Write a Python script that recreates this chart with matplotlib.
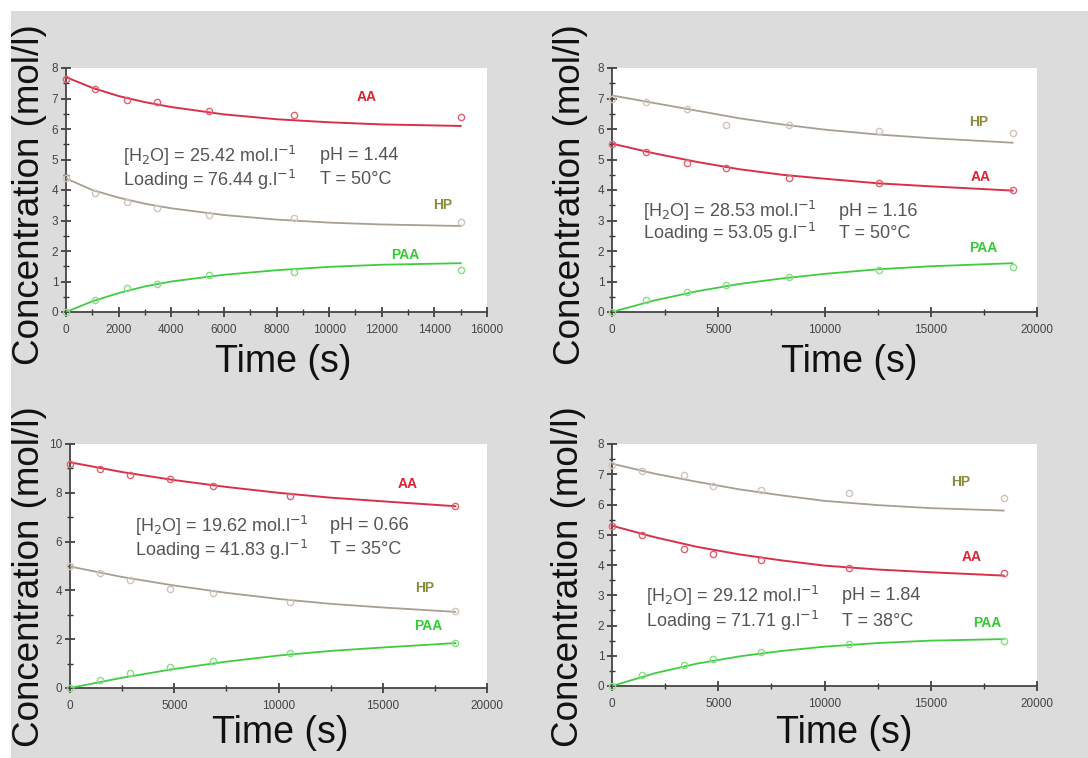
import numpy as np
import matplotlib
matplotlib.use("Agg")
import matplotlib.pyplot as plt
from matplotlib.patches import Rectangle
from matplotlib.ticker import MultipleLocator

plt.rcParams['font.family'] = ['Liberation Sans', 'DejaVu Sans']

W, H = 1088, 758

# ---- data ----
# panel 1
t1 = [0, 1100, 2300, 3450, 5450, 8650, 15000]
aa1 = [7.65, 7.31, 6.96, 6.88, 6.58, 6.47, 6.39]
hp1 = [4.40, 3.89, 3.62, 3.40, 3.18, 3.07, 2.96]
paa1 = [0, 0.38, 0.80, 0.93, 1.20, 1.32, 1.39]
ft1 = [0, 1000, 2000, 3000, 4000, 6000, 8000, 10000, 12000, 15000]
aa1_fit = [7.70, 7.35, 7.08, 6.88, 6.72, 6.48, 6.32, 6.22, 6.15, 6.10]
hp1_fit = [4.38, 4.00, 3.75, 3.55, 3.40, 3.18, 3.03, 2.93, 2.87, 2.82]
paa1_fit = [0, 0.35, 0.62, 0.84, 1.00, 1.22, 1.37, 1.48, 1.55, 1.60]

# panel 2
t2 = [0, 1600, 3550, 5350, 8350, 12550, 18850]
aa2 = [5.51, 5.26, 4.90, 4.71, 4.38, 4.22, 4.00]
hp2 = [7.00, 6.90, 6.65, 6.14, 6.14, 5.94, 5.86]
paa2 = [0, 0.38, 0.66, 0.88, 1.15, 1.39, 1.48]
ft2 = [0, 2000, 4000, 6000, 8000, 10000, 12500, 15000, 18850]
aa2_fit = [5.52, 5.20, 4.92, 4.68, 4.50, 4.37, 4.22, 4.12, 3.98]
hp2_fit = [7.10, 6.85, 6.60, 6.35, 6.15, 5.98, 5.82, 5.70, 5.55]
paa2_fit = [0, 0.38, 0.68, 0.92, 1.10, 1.25, 1.40, 1.50, 1.60]

# panel 3
t3 = [0, 1440, 2900, 4800, 6880, 10560, 18480]
aa3 = [9.18, 8.99, 8.74, 8.57, 8.29, 7.86, 7.45]
hp3 = [5.00, 4.71, 4.44, 4.07, 3.89, 3.52, 3.14]
paa3 = [0, 0.34, 0.61, 0.85, 1.09, 1.43, 1.84]
ft3 = [0, 2500, 5000, 7500, 10000, 12500, 15000, 18480]
aa3_fit = [9.25, 8.85, 8.52, 8.24, 8.00, 7.80, 7.65, 7.45]
hp3_fit = [4.98, 4.55, 4.20, 3.90, 3.65, 3.45, 3.30, 3.12]
paa3_fit = [0, 0.42, 0.78, 1.08, 1.33, 1.52, 1.66, 1.84]

# panel 4
t4 = [0, 1400, 3400, 4750, 7000, 11150, 18430]
aa4 = [5.30, 4.98, 4.54, 4.38, 4.18, 3.90, 3.72]
hp4 = [7.30, 7.12, 6.96, 6.60, 6.49, 6.38, 6.21]
paa4 = [0, 0.38, 0.69, 0.88, 1.13, 1.38, 1.49]
ft4 = [0, 2000, 4000, 6000, 8000, 10000, 12500, 15000, 18430]
aa4_fit = [5.30, 4.92, 4.60, 4.35, 4.15, 3.98, 3.85, 3.76, 3.65]
hp4_fit = [7.35, 7.02, 6.75, 6.50, 6.30, 6.12, 5.98, 5.88, 5.80]
paa4_fit = [0, 0.42, 0.74, 0.98, 1.16, 1.30, 1.42, 1.50, 1.55]

info_lines = [
    (r"[H$_2$O] = 25.42 mol.l$^{-1}$", "pH = 1.44", r"Loading = 76.44 g.l$^{-1}$", "T = 50°C"),
    (r"[H$_2$O] = 28.53 mol.l$^{-1}$", "pH = 1.16", r"Loading = 53.05 g.l$^{-1}$", "T = 50°C"),
    (r"[H$_2$O] = 19.62 mol.l$^{-1}$", "pH = 0.66", r"Loading = 41.83 g.l$^{-1}$", "T = 35°C"),
    (r"[H$_2$O] = 29.12 mol.l$^{-1}$", "pH = 1.84", r"Loading = 71.71 g.l$^{-1}$", "T = 38°C"),
]

AA_C, HP_C, PAA_C = "#d9304a", "#a89e92", "#3fcc3f"
AA_TXT, HP_TXT, PAA_TXT = "#dd2233", "#8a8a3c", "#33cc33"


def px_rect(left, top, right, bottom):
    return [left / W, 1 - bottom / H, (right - left) / W, (bottom - top) / H]


fig = plt.figure(figsize=(W / 100, H / 100), dpi=100)
fig.patch.set_facecolor("white")
fig.patches.append(Rectangle((11 / W, 0), 1, 1 - 11 / H, transform=fig.transFigure,
                             facecolor="#dcdcdc", edgecolor="none", zorder=-10))

panels = [
    dict(rect=(66, 68, 487, 312), xmax=16000, ymax=8, xmaj=2000, ymaj=1,
         t=t1, aa=aa1, hp=hp1, paa=paa1, ft=ft1, aaf=aa1_fit, hpf=hp1_fit, paaf=paa1_fit,
         lab=dict(AA=(11440, 7.05), HP=(14330, 3.5), PAA=(12880, 1.87)),
         info=(123, 320, 156, 180), ylab=(30, 195), xlab=(283, 362)),
    dict(rect=(612, 68, 1037, 312), xmax=20000, ymax=8, xmaj=5000, ymaj=1,
         t=t2, aa=aa2, hp=hp2, paa=paa2, ft=ft2, aaf=aa2_fit, hpf=hp2_fit, paaf=paa2_fit,
         lab=dict(AA=(17360, 4.43), HP=(17270, 6.23), PAA=(17460, 2.1)),
         info=(643, 839, 211, 233), ylab=(570, 195), xlab=(849, 362)),
    dict(rect=(70, 444, 487, 688), xmax=20000, ymax=10, xmaj=5000, ymaj=2,
         t=t3, aa=aa3, hp=hp3, paa=paa3, ft=ft3, aaf=aa3_fit, hpf=hp3_fit, paaf=paa3_fit,
         lab=dict(AA=(16210, 8.36), HP=(17030, 4.1), PAA=(17170, 2.54)),
         info=(135, 330, 526, 550), ylab=(30, 577), xlab=(280, 733)),
    dict(rect=(612, 444, 1037, 686), xmax=20000, ymax=8, xmaj=5000, ymaj=1,
         t=t4, aa=aa4, hp=hp4, paa=paa4, ft=ft4, aaf=aa4_fit, hpf=hp4_fit, paaf=paa4_fit,
         lab=dict(AA=(16940, 4.26), HP=(16420, 6.74), PAA=(17650, 2.08)),
         info=(646, 842, 596, 621), ylab=(569, 577), xlab=(844, 733)),
]

for p, info in zip(panels, info_lines):
    ax = fig.add_axes(px_rect(*p["rect"]))
    ax.set_facecolor("white")
    ax.set_xlim(0, p["xmax"])
    ax.set_ylim(0, p["ymax"])

    ax.plot(p["ft"], p["aaf"], color=AA_C, lw=1.4, zorder=3)
    ax.plot(p["ft"], p["hpf"], color=HP_C, lw=1.3, zorder=3)
    ax.plot(p["ft"], p["paaf"], color=PAA_C, lw=1.3, zorder=3)
    ax.plot(p["t"], p["aa"], "o", ms=4.5, mfc="none", mec="#e06070", mew=1.0, zorder=4, clip_on=False)
    ax.plot(p["t"], p["hp"], "o", ms=4.5, mfc="none", mec="#ccc6bc", mew=1.0, zorder=4, clip_on=False)
    ax.plot(p["t"], p["paa"], "o", ms=4.5, mfc="none", mec="#88dd88", mew=1.0, zorder=4, clip_on=False)

    for name, col in (("AA", AA_TXT), ("HP", HP_TXT), ("PAA", PAA_TXT)):
        x, y = p["lab"][name]
        ax.text(x, y, name, color=col, fontsize=10, fontweight="bold", ha="center", va="center")

    for s in ("top", "right"):
        ax.spines[s].set_visible(False)
    for s in ("left", "bottom"):
        ax.spines[s].set_color("#444444")
        ax.spines[s].set_linewidth(1.3)
    ax.xaxis.set_major_locator(MultipleLocator(p["xmaj"]))
    ax.xaxis.set_minor_locator(MultipleLocator(p["xmaj"] / 2))
    ax.yaxis.set_major_locator(MultipleLocator(p["ymaj"]))
    ax.yaxis.set_minor_locator(MultipleLocator(p["ymaj"] / 2))
    ax.tick_params(which="major", direction="inout", length=7, width=1.2, color="#333333",
                   labelsize=8.5, labelcolor="#444444", pad=2)
    ax.tick_params(which="minor", direction="inout", length=4, width=1.0, color="#333333")
    ax.tick_params(axis="x", which="major", pad=5)

    c1, c2, y1, y2 = p["info"]
    fig.text(c1 / W, 1 - y1 / H, info[0], fontsize=13, color="#555555", va="center")
    fig.text(c2 / W, 1 - y1 / H, info[1], fontsize=13, color="#555555", va="center")
    fig.text(c1 / W, 1 - y2 / H, info[2], fontsize=13, color="#555555", va="center")
    fig.text(c2 / W, 1 - y2 / H, info[3], fontsize=13, color="#555555", va="center")

    yx, yy = p["ylab"]
    fig.text(yx / W, 1 - yy / H, "Concentration (mol/l)", fontsize=26.5, rotation=90,
             ha="center", va="center", color="#111111")
    xx, xy = p["xlab"]
    fig.text(xx / W, 1 - xy / H, "Time (s)", fontsize=27, ha="center", va="center",
             color="#111111")

fig.savefig("out.png", dpi=100, facecolor=fig.get_facecolor())
